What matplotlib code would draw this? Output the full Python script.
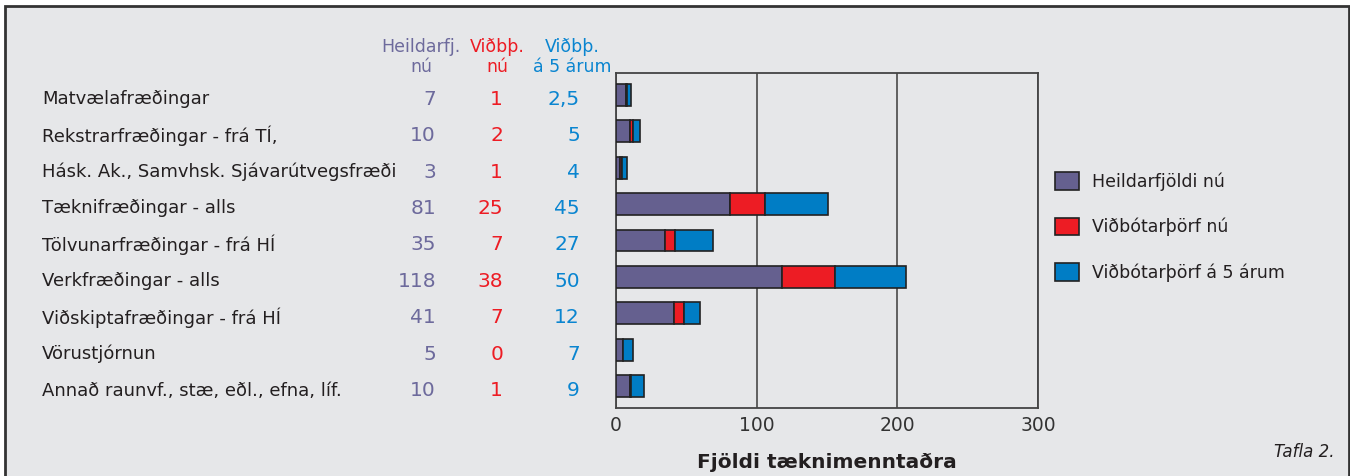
import matplotlib
matplotlib.use('Agg')
import matplotlib.pyplot as plt
from matplotlib.patches import Rectangle
from matplotlib.transforms import blended_transform_factory

plt.rcParams['font.family'] = ['DejaVu Sans']

categories = [
    'Matvælafræðingar',
    'Rekstrarfræðingar - frá TÍ,',
    'Hásk. Ak., Samvhsk. Sjávarútvegsfræði',
    'Tæknifræðingar - alls',
    'Tölvunarfræðingar - frá HÍ',
    'Verkfræðingar - alls',
    'Viðskiptafræðingar - frá HÍ',
    'Vörustjórnun',
    'Annað raunvf., stæ, eðl., efna, líf.',
]
heildarfjoldi_nu = [7, 10, 3, 81, 35, 118, 41, 5, 10]
vidbotarthorf_nu = [1, 2, 1, 25, 7, 38, 7, 0, 1]
vidbotarthorf_5ar = [2.5, 5, 4, 45, 27, 50, 12, 7, 9]

series_names = ['Heildarfjöldi nú', 'Viðbótarþörf nú', 'Viðbótarþörf á 5 árum']
column_heads = ['Heildarfj.\nnú', 'Viðbþ.\nnú', 'Viðbþ.\ná 5 árum']
x_ticks = [0, 100, 200, 300]

purple = '#65608f'
red = '#ed1c24'
blue = '#007dc5'
bg = '#e6e7e9'
dark = '#333333'

W, H = 1350, 476
fig = plt.figure(figsize=(W / 100, H / 100), dpi=100, facecolor='white')


def fx(px):
    return px / W


def fy(py):
    return 1 - py / H


# outer frame, kept behind the axes
fig.patches.append(Rectangle((fx(5), fy(490)), fx(1349) - fx(5), fy(6) - fy(490),
                             transform=fig.transFigure, facecolor=bg,
                             edgecolor=dark, linewidth=2, zorder=-5))

ax = fig.add_axes([fx(616), fy(408), fx(1038) - fx(616), fy(73) - fy(408)])
ax.set_facecolor(bg)

rows = list(range(len(categories)))
left2 = [a + b for a, b in zip(heildarfjoldi_nu, vidbotarthorf_nu)]
bar_kw = dict(height=0.6, edgecolor='#222222', linewidth=1.2, zorder=3)
ax.barh(rows, heildarfjoldi_nu, color=purple, label=series_names[0], **bar_kw)
ax.barh(rows, vidbotarthorf_nu, left=heildarfjoldi_nu, color=red, label=series_names[1], **bar_kw)
ax.barh(rows, vidbotarthorf_5ar, left=left2, color=blue, label=series_names[2], **bar_kw)

ax.set_xlim(0, 300)
ax.set_ylim(len(categories) - 0.4, -0.6)
ax.set_yticks([])
ax.set_xticks(x_ticks)
ax.tick_params(axis='x', length=0, pad=6, labelsize=13.5, labelcolor=dark)
ax.grid(axis='x', color='#555555', linewidth=1.3, zorder=1)
for s in ax.spines.values():
    s.set_color('#444444')
    s.set_linewidth(1.3)
ax.set_xlabel('Fjöldi tæknimenntaðra', fontsize=14.5, fontweight='bold',
              color='#231f20', labelpad=13)

# table to the left of the bars
tr = blended_transform_factory(fig.transFigure, ax.transData)
fmt = lambda v: f'{v:g}'.replace('.', ',')
dy = 0.12
for i, name in enumerate(categories):
    fig.text(fx(42), i + dy, name, transform=tr, ha='left', va='center',
             fontsize=13, color='#231f20')
    fig.text(fx(436), i + dy, fmt(heildarfjoldi_nu[i]), transform=tr, ha='right',
             va='center', fontsize=14.5, color='#6d6a9c')
    fig.text(fx(503), i + dy, fmt(vidbotarthorf_nu[i]), transform=tr, ha='right',
             va='center', fontsize=14.5, color=red)
    fig.text(fx(580), i + dy, fmt(vidbotarthorf_5ar[i]), transform=tr, ha='right',
             va='center', fontsize=14.5, color='#0a85d0')

for x, head, c in zip([421, 497, 572], column_heads, ['#6d6a9c', red, '#0a85d0']):
    fig.text(fx(x), fy(57), head, ha='center', va='center', fontsize=12.5,
             color=c, linespacing=1.1)

ax.legend(loc='upper left', bbox_to_anchor=(fx(1055), fy(172)),
          bbox_transform=fig.transFigure, frameon=False, fontsize=12.5,
          borderpad=0, borderaxespad=0, handlelength=1.4, handleheight=1.2,
          handletextpad=0.75, labelspacing=1.55, labelcolor='#231f20')

fig.text(fx(1334), fy(452), 'Tafla 2.', ha='right', va='center', fontsize=12,
         style='italic', color='#231f20')

fig.savefig('out.png', dpi=100, facecolor=fig.get_facecolor())
